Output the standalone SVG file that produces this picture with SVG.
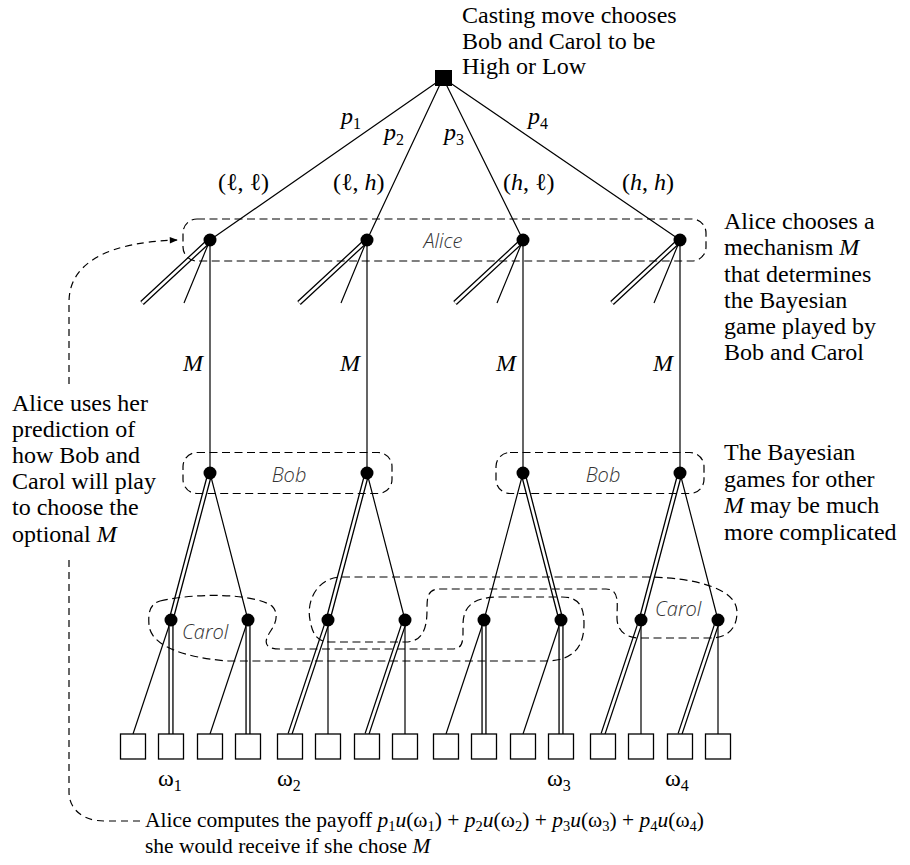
<svg xmlns="http://www.w3.org/2000/svg" width="910" height="865" viewBox="0 0 910 865">
<defs>
<style>
.t{font-family:"Liberation Serif","Times New Roman",serif;font-size:24px;fill:#000}
.b{font-size:21.5px}
.i{font-style:italic}
.s{font-size:16px}
.bs{font-size:14.5px}
.lbl{font-family:"Open Sans","DejaVu Sans",sans-serif;font-style:italic;font-weight:300;font-size:20px;fill:#333}
.e{stroke:#000;stroke-width:1.2;fill:none}
.dO{stroke:#000;stroke-width:5.2;fill:none}
.dI{stroke:#fff;stroke-width:2.6;fill:none}
.set{stroke:#000;stroke-width:1.2;fill:none;stroke-dasharray:8 4.5}
.dot{fill:#000}
.leaf{fill:#fff;stroke:#000;stroke-width:1.3}
</style>
<marker id="ah" viewBox="0 0 10 10" refX="9" refY="5" markerWidth="9" markerHeight="8" markerUnits="userSpaceOnUse" orient="auto"><path d="M0,1 L10,5 L0,9 z" fill="#000"/></marker>
</defs>
<rect width="910" height="865" fill="#fff"/>

<g id="connectors">
<path class="e" d="M443 78 L210 240 M443 78 L367 240 M443 78 L523 240 M443 78 L680 240"/>
<path class="e" d="M210 240 V473 M367 240 V473 M523 240 V473 M680 240 V473"/>
<path class="e" d="M210 240 L184 303 M367 240 L341 303 M523 240 L497 303 M680 240 L654 303"/>
<path class="dO" d="M210 240 L142 303 M367 240 L299 303 M523 240 L455 303 M680 240 L612 303"/>
<path class="dI" d="M210 240 L142 303 M367 240 L299 303 M523 240 L455 303 M680 240 L612 303"/>
<path class="e" d="M210 473 L248 620 M367 473 L405 620 M523 473 L484 620 M680 473 L718 620"/>
<path class="dO" d="M210 473 L171 620 M367 473 L328 620 M523 473 L561 620 M680 473 L641 620"/>
<path class="dI" d="M210 473 L171 620 M367 473 L328 620 M523 473 L561 620 M680 473 L641 620"/>
<path class="e" d="M171 620 L133 734 M248 620 L210 734 M328 620 V734 M405 620 V734 M484 620 L446 734 M561 620 L523 734 M641 620 V734 M718 620 V734"/>
<path class="dO" d="M171 620 V734 M248 620 V734 M328 620 L290 734 M405 620 L367 734 M484 620 V734 M561 620 V734 M641 620 L603 734 M718 620 L680 734"/>
<path class="dI" d="M171 620 V734 M248 620 V734 M328 620 L290 734 M405 620 L367 734 M484 620 V734 M561 620 V734 M641 620 L603 734 M718 620 L680 734"/>
<path d="M140 821 L104 821 C84 821 69 810 69 792 L69 560 M69 384 L69 302 C69 262 110 242 177 240" fill="none" stroke="#000" stroke-width="1.2" stroke-dasharray="7 5" marker-end="url(#ah)"/>
</g>

<g id="root"><rect x="435" y="70" width="17" height="16" fill="#000"/></g>

<g id="alice-set">
<rect class="set" x="183" y="219" width="523" height="42" rx="14"/>
<text class="lbl" x="443" y="248" text-anchor="middle">Alice</text>
</g>
<g id="alice-nodes">
<circle class="dot" cx="210" cy="240" r="6.5"/><circle class="dot" cx="367" cy="240" r="6.5"/><circle class="dot" cx="523" cy="240" r="6.5"/><circle class="dot" cx="680" cy="240" r="6.5"/>
</g>

<g id="bob-set-1">
<rect class="set" x="183" y="452.5" width="209" height="41" rx="14"/>
<text class="lbl" x="289" y="482" text-anchor="middle">Bob</text>
</g>
<g id="bob-set-2">
<rect class="set" x="496" y="452.5" width="208" height="41" rx="14"/>
<text class="lbl" x="603" y="482" text-anchor="middle">Bob</text>
</g>
<g id="bob-nodes">
<circle class="dot" cx="210" cy="473" r="6.5"/><circle class="dot" cx="367" cy="473" r="6.5"/><circle class="dot" cx="523" cy="473" r="6.5"/><circle class="dot" cx="680" cy="473" r="6.5"/>
</g>

<g id="carol-set-a">
<path class="set" d="M160 601 C200 592 255 594 272 606 C280 614 275 625 270 632 C265 640 262 649 280 649 L452 649 C464 649 463 640 463 625 C463 607 472 597 500 597 L562 597 C580 597 584 608 584 624 C584 645 575 661 545 661 L228 661 C190 658 151 648 149 625 C148 612 150 604 160 601 Z"/>
<text class="lbl" x="182" y="639">Carol</text>
</g>
<g id="carol-set-b">
<path class="set" d="M342 577 L648 577 C700 578 737 590 737 612 C737 628 728 638 710 638 L640 638 C625 638 617 630 617 618 C617 604 620 589 606 589 L440 589 C427 589 427 598 427 610 C427 626 424 642 405 642 L330 642 C316 642 312 632 310 620 C306 600 318 577 342 577 Z"/>
<text class="lbl" x="655" y="616">Carol</text>
</g>
<g id="carol-nodes">
<circle class="dot" cx="171" cy="620" r="6.5"/><circle class="dot" cx="248" cy="620" r="6.5"/><circle class="dot" cx="328" cy="620" r="6.5"/><circle class="dot" cx="405" cy="620" r="6.5"/><circle class="dot" cx="484" cy="620" r="6.5"/><circle class="dot" cx="561" cy="620" r="6.5"/><circle class="dot" cx="641" cy="620" r="6.5"/><circle class="dot" cx="718" cy="620" r="6.5"/>
</g>

<g id="leaves">
<rect class="leaf" x="120.5" y="734" width="25" height="25"/><rect class="leaf" x="158.5" y="734" width="25" height="25"/>
<rect class="leaf" x="197.5" y="734" width="25" height="25"/><rect class="leaf" x="235.5" y="734" width="25" height="25"/>
<rect class="leaf" x="277.5" y="734" width="25" height="25"/><rect class="leaf" x="315.5" y="734" width="25" height="25"/>
<rect class="leaf" x="354.5" y="734" width="25" height="25"/><rect class="leaf" x="392.5" y="734" width="25" height="25"/>
<rect class="leaf" x="433.5" y="734" width="25" height="25"/><rect class="leaf" x="471.5" y="734" width="25" height="25"/>
<rect class="leaf" x="510.5" y="734" width="25" height="25"/><rect class="leaf" x="548.5" y="734" width="25" height="25"/>
<rect class="leaf" x="590.5" y="734" width="25" height="25"/><rect class="leaf" x="628.5" y="734" width="25" height="25"/>
<rect class="leaf" x="667.5" y="734" width="25" height="25"/><rect class="leaf" x="705.5" y="734" width="25" height="25"/>
</g>

<g id="labels">
<text class="t" x="462" y="23">Casting move chooses</text>
<text class="t" x="462" y="49">Bob and Carol to be</text>
<text class="t" x="462" y="74">High or Low</text>

<text class="t" x="341" y="124"><tspan class="i">p</tspan><tspan class="s" dy="5">1</tspan></text>
<text class="t" x="384" y="140"><tspan class="i">p</tspan><tspan class="s" dy="5">2</tspan></text>
<text class="t" x="444" y="140"><tspan class="i">p</tspan><tspan class="s" dy="5">3</tspan></text>
<text class="t" x="528" y="124"><tspan class="i">p</tspan><tspan class="s" dy="5">4</tspan></text>

<text class="t" x="218" y="190">(ℓ, ℓ)</text>
<text class="t" x="333" y="190">(ℓ, <tspan class="i">h</tspan>)</text>
<text class="t" x="503" y="190">(<tspan class="i">h</tspan>, ℓ)</text>
<text class="t" x="622" y="190">(<tspan class="i">h</tspan>, <tspan class="i">h</tspan>)</text>

<text class="t i" x="203" y="371" text-anchor="end">M</text>
<text class="t i" x="360" y="371" text-anchor="end">M</text>
<text class="t i" x="516" y="371" text-anchor="end">M</text>
<text class="t i" x="673" y="371" text-anchor="end">M</text>

<text class="t" x="158" y="786">ω<tspan class="s" dy="5">1</tspan></text>
<text class="t" x="277" y="786">ω<tspan class="s" dy="5">2</tspan></text>
<text class="t" x="547" y="786">ω<tspan class="s" dy="5">3</tspan></text>
<text class="t" x="665" y="786">ω<tspan class="s" dy="5">4</tspan></text>

<text class="t" x="724" y="229">Alice chooses a</text>
<text class="t" x="724" y="255">mechanism <tspan class="i">M</tspan></text>
<text class="t" x="724" y="281.5">that determines</text>
<text class="t" x="724" y="308">the Bayesian</text>
<text class="t" x="724" y="334">game played by</text>
<text class="t" x="724" y="360">Bob and Carol</text>

<text class="t" x="724" y="460">The Bayesian</text>
<text class="t" x="724" y="486.5">games for other</text>
<text class="t" x="724" y="513"><tspan class="i">M</tspan> may be much</text>
<text class="t" x="724" y="539.5">more complicated</text>

<text class="t" x="12" y="410.5">Alice uses her</text>
<text class="t" x="12" y="436.7">prediction of</text>
<text class="t" x="12" y="462.9">how Bob and</text>
<text class="t" x="12" y="489.1">Carol will play</text>
<text class="t" x="12" y="515.3">to choose the</text>
<text class="t" x="12" y="541.5">optional <tspan class="i">M</tspan></text>

<text class="t b" x="145" y="827">Alice computes the payoff <tspan class="i">p</tspan><tspan class="bs" dy="4">1</tspan><tspan class="i" dy="-4">u</tspan>(ω<tspan class="bs" dy="4">1</tspan><tspan dy="-4">) + </tspan><tspan class="i">p</tspan><tspan class="bs" dy="4">2</tspan><tspan class="i" dy="-4">u</tspan>(ω<tspan class="bs" dy="4">2</tspan><tspan dy="-4">) + </tspan><tspan class="i">p</tspan><tspan class="bs" dy="4">3</tspan><tspan class="i" dy="-4">u</tspan>(ω<tspan class="bs" dy="4">3</tspan><tspan dy="-4">) + </tspan><tspan class="i">p</tspan><tspan class="bs" dy="4">4</tspan><tspan class="i" dy="-4">u</tspan>(ω<tspan class="bs" dy="4">4</tspan><tspan dy="-4">)</tspan></text>
<text class="t b" x="145" y="853">she would receive if she chose <tspan class="i">M</tspan></text>
</g>
</svg>
